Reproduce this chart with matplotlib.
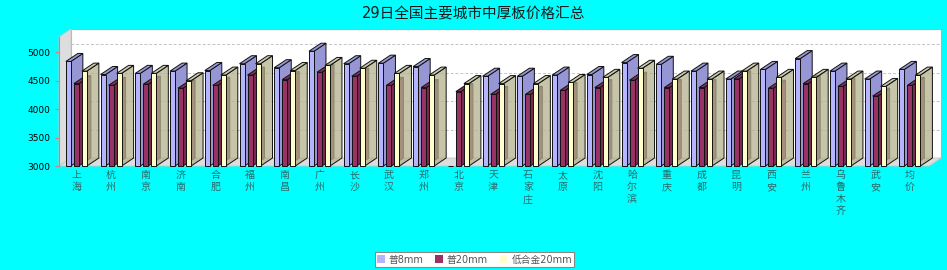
import numpy as np
import matplotlib
matplotlib.use('Agg')
import matplotlib.pyplot as plt
from matplotlib.patches import Polygon, Rectangle, Patch

plt.rcParams['font.family'] = ['DejaVu Sans', 'Noto Sans CJK SC']

# --- data ---
cities = ['上海', '杭州', '南京', '济南', '合肥', '福州', '南昌', '广州', '长沙', '武汉',
          '郑州', '北京', '天津', '石家庄', '太原', '沈阳', '哈尔滨', '重庆', '成都', '昆明',
          '西安', '兰州', '乌鲁木齐', '武安', '均价']
pu8 = [4840, 4610, 4630, 4670, 4680, 4800, 4730, 5020, 4800, 4810,
       4750, np.nan, 4580, 4580, 4600, 4610, 4820, 4790, 4670, 4530,
       4700, 4890, 4670, 4530, 4700]
pu20 = [4450, 4420, 4440, 4370, 4420, 4600, 4520, 4650, 4580, 4420,
        4380, 4310, 4260, 4260, 4330, 4380, 4510, 4380, 4380, 4530,
        4370, 4450, 4400, 4230, 4420]
dihejin20 = [4670, 4630, 4630, 4500, 4600, 4800, 4680, 4770, 4720, 4630,
             4600, 4450, 4450, 4450, 4470, 4560, 4720, 4530, 4530, 4670,
             4560, 4560, 4530, 4400, 4600]
series_names = ['普8mm', '普20mm', '低合金20mm']
yticks = [3000, 3500, 4000, 4500, 5000]

W, H = 947, 270
fig = plt.figure(figsize=(W / 100, H / 100), dpi=100, facecolor='#00ffff')

# front plot rectangle in pixels
fx0, fx1, fy0, fy1 = 59, 929, 37, 166
ax = fig.add_axes([fx0 / W, 1 - fy1 / H, (fx1 - fx0) / W, (fy1 - fy0) / H])
ax.patch.set_visible(False)

xmin, xmax = -0.5, 24.55
ymin, ymax = 3000, 5270
ax.set_xlim(xmin, xmax)
ax.set_ylim(ymin, ymax)

px_x = (fx1 - fx0) / (xmax - xmin)      # pixels per category
px_y = (fy1 - fy0) / (ymax - ymin)      # pixels per value unit
dx = 12 / px_x
dy = 8 / px_y

# walls and floor
ax.add_patch(Rectangle((xmin + dx, ymin + dy), xmax - xmin, ymax - ymin,
                       facecolor='white', edgecolor='#b0b0b0', lw=0.8,
                       clip_on=False, zorder=0))
ax.add_patch(Polygon([(xmin, ymin), (xmin + dx, ymin + dy), (xmin + dx, ymax + dy), (xmin, ymax)],
                     facecolor='#dddddd', edgecolor='#c8c8c8', lw=0.6, clip_on=False, zorder=0.1))
ax.add_patch(Polygon([(xmin, ymin), (xmax, ymin), (xmax + dx, ymin + dy), (xmin + dx, ymin + dy)],
                     facecolor='#dddddd', edgecolor='#c8c8c8', lw=0.6, clip_on=False, zorder=0.1))
for v in yticks[1:]:
    ax.plot([xmin + dx, xmax + dx], [v + dy, v + dy], color='#c4c4c4', lw=0.7,
            ls=(0, (3, 2)), clip_on=False, zorder=0.2)

# 3d bars
styles = [
    dict(front='#b4b4ff', side='#9696d4', top='#9a9ad8', alpha=1.0),
    dict(front='#993366', side='#7a2952', top='#80305a', alpha=1.0),
    dict(front='#ffffcc', side='#b4b28c', top='#bcba96', alpha=0.75),
]
bw = 5 / px_x
offs = [-8 / px_x, 0, 8 / px_x]
x = np.arange(len(cities))
for k, vals in enumerate([pu8, pu20, dihejin20]):
    st = styles[k]
    z = 2 + k
    for i, v in enumerate(vals):
        if np.isnan(v):
            continue
        x0 = x[i] + offs[k] - bw / 2
        x1 = x0 + bw
        side = [(x1, ymin), (x1 + dx, ymin + dy), (x1 + dx, v + dy), (x1, v)]
        top = [(x0, v), (x1, v), (x1 + dx, v + dy), (x0 + dx, v + dy)]
        ax.add_patch(Polygon(side, facecolor=st['side'], alpha=st['alpha'],
                             edgecolor='none', clip_on=False, zorder=z))
        ax.add_patch(Polygon(side, facecolor='none', edgecolor='#111111', lw=0.7,
                             clip_on=False, zorder=z))
        ax.add_patch(Polygon(top, facecolor=st['top'], alpha=st['alpha'],
                             edgecolor='none', clip_on=False, zorder=z))
        ax.add_patch(Polygon(top, facecolor='none', edgecolor='#111111', lw=0.7,
                             clip_on=False, zorder=z))
    ax.bar(x + offs[k], np.nan_to_num(np.array(vals, dtype=float) - ymin), bottom=ymin,
           width=bw, color=styles[k]['front'], edgecolor='#111111', lw=0.7,
           clip_on=False, zorder=z + 0.1)

# axes styling
for s in ['top', 'right', 'bottom']:
    ax.spines[s].set_visible(False)
ax.spines['left'].set_color('#999999')
ax.spines['left'].set_linewidth(0.8)
ax.set_yticks(yticks)
ax.set_yticklabels([str(t) for t in yticks])
ax.tick_params(axis='y', length=3, width=0.8, color='#d08080', labelsize=6.5, pad=3)
ax.set_xticks(x)
ax.set_xticklabels(['\n'.join(c) for c in cities], fontsize=7.2, color='#2c6a6a',
                   linespacing=1.25, va='top')
ax.tick_params(axis='x', length=0, pad=3)

fig.text(0.5, 1 - 14 / H, '29日全国主要城市中厚板价格汇总', ha='center', va='center',
         fontsize=10.5, color='#1a1a1a')

handles = [Patch(facecolor=styles[k]['front'], edgecolor='none') for k in range(3)]
leg = fig.legend(handles, series_names, loc='center', bbox_to_anchor=(474.5 / W, 1 - 259.5 / H),
                 ncol=3, fontsize=7, frameon=True, fancybox=False, handlelength=0.8,
                 handleheight=0.8, handletextpad=0.4, columnspacing=1.2, borderpad=0.25,
                 labelcolor='#555555', framealpha=1.0)
leg.get_frame().set_facecolor('white')
leg.get_frame().set_edgecolor('#888888')
leg.get_frame().set_linewidth(0.8)

fig.savefig('out.png', dpi=100, facecolor=fig.get_facecolor())
